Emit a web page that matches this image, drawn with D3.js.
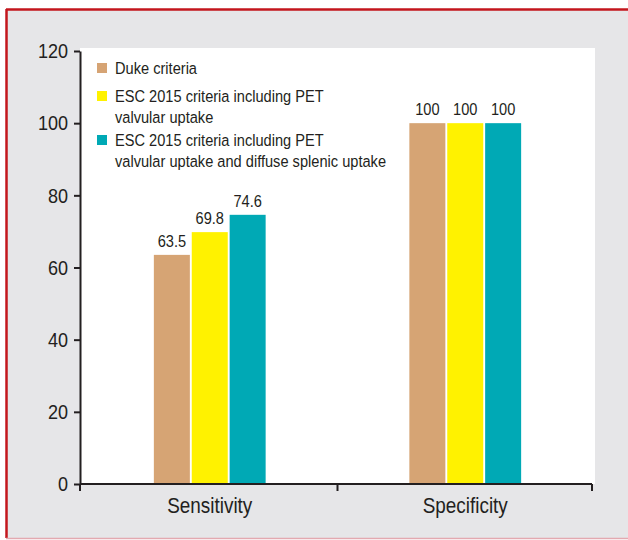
<!DOCTYPE html>
<html>
<head>
<meta charset="utf-8">
<script src="https://cdn.jsdelivr.net/npm/d3@7"></script>
<style>
  html, body { margin: 0; padding: 0; background: #fff; }
  svg { display: block; }
  text { font-family: "Liberation Sans", Arial, Helvetica, sans-serif; fill: #231f20; }
</style>
</head>
<body>
<svg id="chart" width="628" height="540"></svg>
<script>
const categories = ["Sensitivity", "Specificity"];
const seriesNames = [
  "Duke criteria",
  "ESC 2015 criteria including PET valvular uptake",
  "ESC 2015 criteria including PET valvular uptake and diffuse splenic uptake"
];
const legendLines = [
  ["Duke criteria"],
  ["ESC 2015 criteria including PET", "valvular uptake"],
  ["ESC 2015 criteria including PET", "valvular uptake and diffuse splenic uptake"]
];
const valueLabels = [["63.5", "69.8", "74.6"], ["100", "100", "100"]];
const values = [[63.5, 69.8, 74.6], [100, 100, 100]];
const yTicks = [0, 20, 40, 60, 80, 100, 120];
const colors = ["#d6a474", "#fff200", "#00a9b5"];

const SX = 0.86; // horizontal condensing to mimic a narrow face
function condense(sel) {
  sel.each(function() {
    const t = d3.select(this);
    const X = +t.attr("x") || 0;
    t.attr("transform", `translate(${X},0) scale(${SX},1) translate(${-X},0)`);
  });
}

const svg = d3.select("#chart");

// background frame
svg.append("rect").attr("x", 0).attr("y", 0).attr("width", 628).attr("height", 540).attr("fill", "#fff");
svg.append("rect").attr("x", 6).attr("y", 9).attr("width", 640).attr("height", 529).attr("fill", "#e6e6e8");
svg.append("line").attr("x1", 6).attr("x2", 628).attr("y1", 9.5).attr("y2", 9.5).attr("stroke", "#c3161d").attr("stroke-width", 2.5);
svg.append("line").attr("x1", 6.5).attr("x2", 6.5).attr("y1", 9).attr("y2", 538).attr("stroke", "#c3161d").attr("stroke-width", 2.5);
svg.append("line").attr("x1", 6).attr("x2", 628).attr("y1", 538.5).attr("y2", 538.5).attr("stroke", "#e3a9b0").attr("stroke-width", 1.5);

const plot = { left: 80, right: 592, top: 51, bottom: 484 };

// white plot area
svg.append("rect").attr("x", plot.left).attr("y", 48).attr("width", 595 - plot.left).attr("height", plot.bottom - 48).attr("fill", "#fff");

const y = d3.scaleLinear().domain([0, 120]).range([plot.bottom, plot.top]);
const x0 = d3.scaleBand().domain(categories).range([plot.left + 2, plot.right + 1]).paddingInner(0.5625).paddingOuter(0.28125);
const x1 = d3.scaleBand().domain(d3.range(seriesNames.length)).range([0, x0.bandwidth()]).paddingInner(0.05);

// bars
const groups = svg.append("g").selectAll("g").data(categories).join("g")
  .attr("transform", d => `translate(${x0(d)},0)`);
groups.each(function(cat, ci) {
  const g = d3.select(this);
  const data = values[ci].map((v, si) => ({ v, si, label: valueLabels[ci][si] }));
  g.selectAll("rect").data(data).join("rect")
    .attr("x", d => x1(d.si))
    .attr("y", d => y(d.v))
    .attr("width", x1.bandwidth())
    .attr("height", d => y(0) - y(d.v))
    .attr("fill", d => colors[d.si]);
  g.selectAll("text.val").data(data).join("text")
    .attr("class", "val")
    .attr("x", d => x1(d.si) + x1.bandwidth() / 2)
    .attr("y", d => y(d.v) - 8)
    .attr("text-anchor", "middle")
    .attr("font-size", 17)
    .text(d => d.label)
    .call(condense);
});

// y axis
const yAxis = d3.axisLeft(y).tickValues(yTicks).tickSize(6).tickPadding(5).tickSizeOuter(0);
const ya = svg.append("g").attr("transform", `translate(${plot.left},0)`).call(yAxis);
ya.select(".domain").attr("stroke", "#231f20").attr("stroke-width", 2);
ya.selectAll(".tick line").attr("stroke", "#231f20").attr("stroke-width", 2);
ya.selectAll(".tick text").attr("font-size", 21).attr("fill", "#231f20")
  .attr("x", -12)
  .style("font-family", '"Liberation Sans", Arial, Helvetica, sans-serif')
  .call(condense);

// x axis: ticks at band boundaries
const xa = svg.append("g").attr("transform", `translate(0,${plot.bottom})`);
xa.append("line").attr("x1", plot.left).attr("x2", plot.right).attr("y1", 0).attr("y2", 0)
  .attr("stroke", "#231f20").attr("stroke-width", 2);
const bounds = [plot.left, (x0(categories[0]) + x0.bandwidth() + x0(categories[1])) / 2, plot.right];
xa.selectAll("line.tk").data(bounds).join("line").attr("class", "tk")
  .attr("x1", d => d).attr("x2", d => d).attr("y1", 0).attr("y2", 7)
  .attr("stroke", "#231f20").attr("stroke-width", 2);
xa.selectAll("text.cat").data(categories).join("text").attr("class", "cat")
  .attr("x", d => x0(d) + x0.bandwidth() / 2)
  .attr("y", 29)
  .attr("text-anchor", "middle")
  .attr("font-size", 22)
  .text(d => d)
  .call(condense);

// legend
const legendBase = [74, 102, 146];
const lg = svg.append("g");
legendLines.forEach((lines, i) => {
  lg.append("rect").attr("x", 97).attr("y", legendBase[i] - 11).attr("width", 10).attr("height", 10).attr("fill", colors[i]);
  const t = lg.append("text").attr("x", 115).attr("y", legendBase[i]).attr("font-size", 17);
  lines.forEach((ln, j) => {
    t.append("tspan").attr("x", 115).attr("dy", j === 0 ? 0 : 21).text(ln);
  });
  condense(t);
});
</script>
</body>
</html>
